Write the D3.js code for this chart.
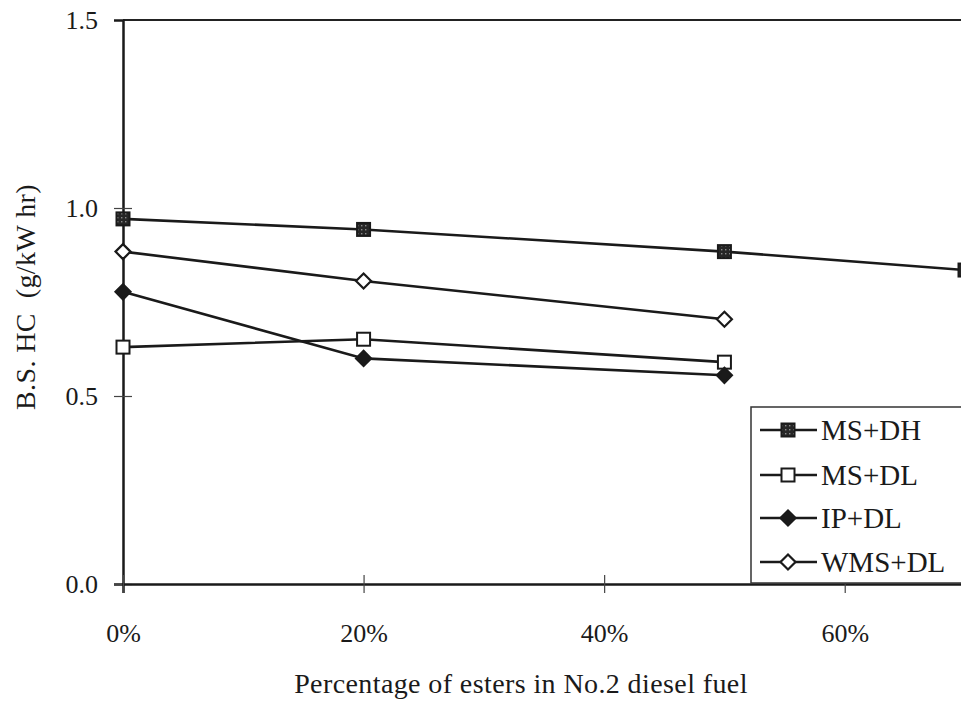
<!DOCTYPE html>
<html>
<head>
<meta charset="utf-8">
<script src="https://cdn.jsdelivr.net/npm/d3@7"></script>
<style>
  html, body { margin: 0; padding: 0; background: #fff; }
  svg { display: block; }
  text { font-family: "Liberation Serif", "Times New Roman", serif; fill: #1a1a1a; }
</style>
</head>
<body>
<svg id="chart" width="961" height="702"></svg>
<script>
// Ester blend share in No.2 diesel fuel (fraction)
const blendLevels = [0, 0.2, 0.5];
const blendLevelsDH = [0, 0.2, 0.5, 0.7];

// Brake-specific hydrocarbon emissions, g/kW hr
const msDH  = [0.971, 0.943, 0.884, 0.835];
const msDL  = [0.630, 0.651, 0.590];
const ipDL  = [0.777, 0.600, 0.555];
const wmsDL = [0.884, 0.806, 0.704];

const seriesNames = ["MS+DH", "MS+DL", "IP+DL", "WMS+DL"];
const xTicks = [0, 0.2, 0.4, 0.6];
const yTicks = [0, 0.5, 1.0, 1.5];

const SERIF = '"Liberation Serif", "Times New Roman", serif';
const svg = d3.select("#chart");

const x = d3.scaleLinear().domain([0, 0.7]).range([123, 965]);
const y = d3.scaleLinear().domain([0, 1.5]).range([584, 20]);

// Speckled fill for the dark square markers
const defs = svg.append("defs");
const pat = defs.append("pattern")
  .attr("id", "speckle").attr("patternUnits", "userSpaceOnUse")
  .attr("width", 4).attr("height", 4);
pat.append("rect").attr("width", 4).attr("height", 4).attr("fill", "#262626");
pat.append("rect").attr("x", 1).attr("y", 1).attr("width", 1.4).attr("height", 1.4).attr("fill", "#8a8a8a");

// Plot frame
svg.append("line")
  .attr("x1", x(0)).attr("x2", 961).attr("y1", y(1.5)).attr("y2", y(1.5))
  .attr("stroke", "#222").attr("stroke-width", 2);

// Y axis
const yAxis = svg.append("g")
  .attr("transform", `translate(${x(0)},0)`)
  .call(d3.axisLeft(y).tickValues(yTicks).tickFormat(d3.format(".1f")).tickSize(9).tickPadding(16));
yAxis.attr("font-family", null).attr("font-size", null);
yAxis.select(".domain").attr("stroke", "#1a1a1a").attr("stroke-width", 2.5);
yAxis.selectAll(".tick line").attr("stroke", "#444").attr("stroke-width", 1.2).attr("x2", 9).attr("x1", -9);
yAxis.selectAll(".tick text").style("font-family", SERIF).style("font-size", "26px").attr("fill", "#1a1a1a");
yAxis.selectAll(".tick").filter(d => d === 1.5).select("line").remove();

// X axis
const xAxis = svg.append("g")
  .attr("transform", `translate(0,${y(0)})`)
  .call(d3.axisBottom(x).tickValues(xTicks).tickFormat(d3.format(".0%")).tickSize(9).tickPadding(31));
xAxis.attr("font-family", null).attr("font-size", null);
xAxis.select(".domain").attr("stroke", "#1a1a1a").attr("stroke-width", 2.5);
xAxis.selectAll(".tick line").attr("stroke", "#444").attr("stroke-width", 1.2).attr("y1", -9).attr("y2", 9);
xAxis.selectAll(".tick text").style("font-family", SERIF).style("font-size", "26px").attr("fill", "#1a1a1a");

// Axis titles
svg.append("text")
  .attr("x", 521).attr("y", 693)
  .attr("text-anchor", "middle").style("font-size", "28px").style("letter-spacing", "0.4px")
  .text("Percentage of esters in No.2 diesel fuel");

svg.append("text")
  .attr("transform", "translate(35,297) rotate(-90)")
  .attr("text-anchor", "middle").style("font-size", "28px").style("letter-spacing", "0.4px")
  .attr("xml:space", "preserve")
  .text("B.S. HC  (g/kW hr)");

// Series
const series = [
  { name: seriesNames[0], xs: blendLevelsDH, ys: msDH,  marker: "square", fill: "url(#speckle)" },
  { name: seriesNames[1], xs: blendLevels,   ys: msDL,  marker: "square", fill: "#fff" },
  { name: seriesNames[2], xs: blendLevels,   ys: ipDL,  marker: "diamond", fill: "#1a1a1a" },
  { name: seriesNames[3], xs: blendLevels,   ys: wmsDL, marker: "diamond", fill: "#fff" }
];

const line = d3.line().x(d => x(d[0])).y(d => y(d[1]));

function drawMarker(g, m, fill, cx, cy) {
  if (m === "square") {
    g.append("rect")
      .attr("x", cx - 6.5).attr("y", cy - 6.5).attr("width", 13).attr("height", 13)
      .attr("fill", fill).attr("stroke", "#1a1a1a").attr("stroke-width", 2);
  } else {
    const s = 7.5;
    g.append("path")
      .attr("d", `M${cx},${cy - s}L${cx + s},${cy}L${cx},${cy + s}L${cx - s},${cy}Z`)
      .attr("fill", fill).attr("stroke", "#1a1a1a").attr("stroke-width", 2.2);
  }
}

const plot = svg.append("g");
series.forEach(s => {
  const pts = s.xs.map((v, i) => [v, s.ys[i]]);
  plot.append("path").attr("d", line(pts))
    .attr("fill", "none").attr("stroke", "#1a1a1a").attr("stroke-width", 2.6);
  const mg = plot.append("g");
  pts.forEach(p => drawMarker(mg, s.marker, s.fill, x(p[0]), y(p[1])));
});

// Legend
const legend = svg.append("g");
legend.append("rect")
  .attr("x", 751).attr("y", 407).attr("width", 240).attr("height", 176)
  .attr("fill", "#fff").attr("stroke", "#333").attr("stroke-width", 1.5);
const rowY = [430, 475, 518, 562];
series.forEach((s, i) => {
  const g = legend.append("g");
  g.append("line").attr("x1", 760).attr("x2", 817).attr("y1", rowY[i]).attr("y2", rowY[i])
    .attr("stroke", "#1a1a1a").attr("stroke-width", 2.6);
  drawMarker(g, s.marker, s.fill, 788, rowY[i]);
  g.append("text").attr("x", 821).attr("y", rowY[i] + 10)
    .style("font-size", "29px").text(s.name);
});
</script>
</body>
</html>
